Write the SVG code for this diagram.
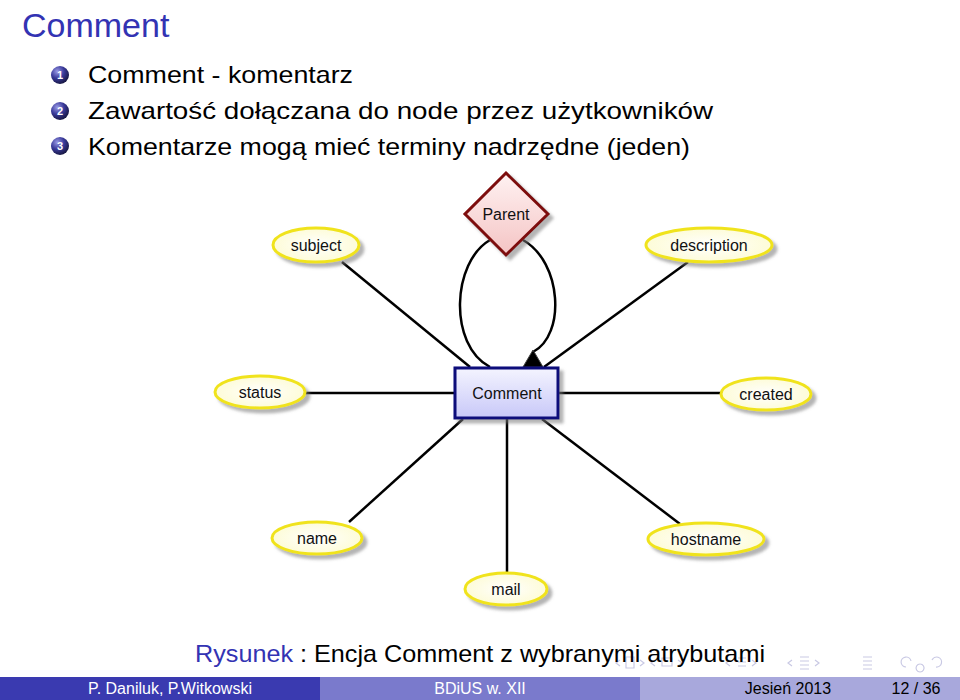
<svg xmlns="http://www.w3.org/2000/svg" width="960" height="700" viewBox="0 0 960 700">
<style>
.title{font-family:"Liberation Sans",Arial,sans-serif;font-size:34px;fill:#3333b3}
.body{font-family:"Liberation Sans",Arial,sans-serif;font-size:24px;fill:#000}
.lbl{font-family:"Liberation Sans",Arial,sans-serif;font-size:16px;fill:#111;text-anchor:middle}
.num{font-family:"Liberation Sans",Arial,sans-serif;font-size:11px;font-weight:bold;fill:#fff;text-anchor:middle}
.attr{fill:url(#yel);stroke:#f0e31c;stroke-width:3;filter:url(#sh)}
.conn line,.conn path{stroke:#000;stroke-width:2.5;fill:none}
.foot{font-family:"Liberation Sans",Arial,sans-serif;font-size:16px;text-anchor:middle}
.nav{fill:none;stroke:#c9c9e4;stroke-width:1.2}
</style>
<defs>
<filter id="sh" x="-30%" y="-30%" width="170%" height="170%">
<feDropShadow dx="4" dy="4" stdDeviation="1.6" flood-color="#777" flood-opacity="0.55"/>
</filter>
<radialGradient id="yel" cx="50%" cy="50%" r="60%">
<stop offset="0" stop-color="#ffffff"/>
<stop offset="1" stop-color="#fdfbd0"/>
</radialGradient>
<linearGradient id="blu" x1="0" y1="1" x2="0" y2="0">
<stop offset="0" stop-color="#c8c8f8"/>
<stop offset="1" stop-color="#f4f4ff"/>
</linearGradient>
<linearGradient id="pnk" x1="0" y1="1" x2="0" y2="0">
<stop offset="0" stop-color="#f4c4c4"/>
<stop offset="1" stop-color="#fff2f2"/>
</linearGradient>
<radialGradient id="ball" cx="35%" cy="30%" r="75%">
<stop offset="0" stop-color="#9a9ae6"/>
<stop offset="0.5" stop-color="#3a3a9a"/>
<stop offset="1" stop-color="#14143c"/>
</radialGradient>
</defs>
<rect width="960" height="700" fill="#fff"/>

<text class="title" x="22" y="37">Comment</text>

<g id="bullets">
<circle cx="60" cy="75" r="9" fill="url(#ball)"/><text class="num" x="60" y="79">1</text>
<circle cx="60" cy="111" r="9" fill="url(#ball)"/><text class="num" x="60" y="115">2</text>
<circle cx="60" cy="146" r="9" fill="url(#ball)"/><text class="num" x="60" y="150">3</text>
<text class="body" x="88" y="83" textLength="265" lengthAdjust="spacingAndGlyphs">Comment - komentarz</text>
<text class="body" x="88" y="119" textLength="625" lengthAdjust="spacingAndGlyphs">Zawartość dołączana do node przez użytkowników</text>
<text class="body" x="88" y="155" textLength="602" lengthAdjust="spacingAndGlyphs">Komentarze mogą mieć terminy nadrzędne (jeden)</text>
</g>

<g id="connectors" class="conn">
<line x1="470" y1="367" x2="342" y2="262"/>
<line x1="544" y1="367" x2="688" y2="262"/>
<line x1="305" y1="393" x2="454" y2="393"/>
<line x1="559" y1="393" x2="721" y2="393"/>
<line x1="463" y1="419" x2="349" y2="522"/>
<line x1="542" y1="419" x2="680" y2="524"/>
<line x1="507" y1="419" x2="507" y2="572"/>
<path d="M490,240 C452,262 448,345 490,367"/>
<path d="M523,240 C562,262 566,335 533,352"/>
<polygon points="533,350 523,367 543,367" fill="#000" stroke="#444" stroke-width="1"/>
</g>

<g id="parent">
<polygon points="506,173 548,214 506,255 465,214" fill="url(#pnk)" stroke="#7d0b0b" stroke-width="3" filter="url(#sh)"/>
<text class="lbl" x="506" y="220">Parent</text>
</g>

<g id="comment">
<rect x="455" y="368" width="103" height="50" fill="url(#blu)" stroke="#0b0b7a" stroke-width="3" filter="url(#sh)"/>
<text class="lbl" x="507" y="399">Comment</text>
</g>

<g id="subject"><ellipse class="attr" cx="316" cy="245" rx="43" ry="17"/><text class="lbl" x="316" y="251">subject</text></g>
<g id="description"><ellipse class="attr" cx="709" cy="245" rx="63" ry="17"/><text class="lbl" x="709" y="251">description</text></g>
<g id="status"><ellipse class="attr" cx="260" cy="392" rx="45" ry="16"/><text class="lbl" x="260" y="398">status</text></g>
<g id="created"><ellipse class="attr" cx="766" cy="394" rx="45" ry="16"/><text class="lbl" x="766" y="400">created</text></g>
<g id="name"><ellipse class="attr" cx="317" cy="538" rx="45" ry="16"/><text class="lbl" x="317" y="544">name</text></g>
<g id="hostname"><ellipse class="attr" cx="706" cy="539" rx="58" ry="16"/><text class="lbl" x="706" y="545">hostname</text></g>
<g id="mail"><ellipse class="attr" cx="506" cy="589" rx="41" ry="16"/><text class="lbl" x="506" y="595">mail</text></g>

<g id="nav">
<path class="nav" d="M620,660 l-4,3 l4,3 M626,657 h8 v11 h-8 z M640,660 l4,3 l-4,3"/>
<path class="nav" d="M655,660 l-4,3 l4,3 M662,658 h10 v8 h-10 z M678,660 l4,3 l-4,3"/>
<path class="nav" d="M730,660 l-4,3 l4,3 M738,658 h8 M738,662 h8 M738,666 h8 M752,660 l4,3 l-4,3"/>
<path class="nav" d="M792,660 l-4,3 l4,3 M800,657 h9 M800,661 h9 M800,665 h9 M800,669 h9 M815,660 l4,3 l-4,3"/>
<path class="nav" d="M863,657 h9 M863,661 h9 M863,665 h9 M863,669 h9"/>
<path class="nav" d="M906,667 a5,5 0 1 1 5,-6 M920,664 a4,4 0 1 0 0.1,0 M936,667 a5,5 0 1 0 -4,-7"/>
</g>

<text x="195" y="662" font-family="'Liberation Sans',Arial,sans-serif" font-size="24" textLength="570" lengthAdjust="spacingAndGlyphs"><tspan fill="#3333b3">Rysunek</tspan><tspan fill="#000"> : Encja Comment z wybranymi atrybutami</tspan></text>

<g id="footer">
<rect x="0" y="677" width="320" height="23" fill="#3a3ab0"/>
<rect x="320" y="677" width="320" height="23" fill="#7a7acc"/>
<rect x="640" y="677" width="320" height="23" fill="#a8a8dc"/>
<text class="foot" x="170" y="694" fill="#fff">P. Daniluk, P.Witkowski</text>
<text class="foot" x="480" y="694" fill="#fff">BDiUS w. XII</text>
<text class="foot" x="788" y="694" fill="#000">Jesień 2013</text>
<text class="foot" x="916" y="694" fill="#000">12 / 36</text>
</g>
</svg>
